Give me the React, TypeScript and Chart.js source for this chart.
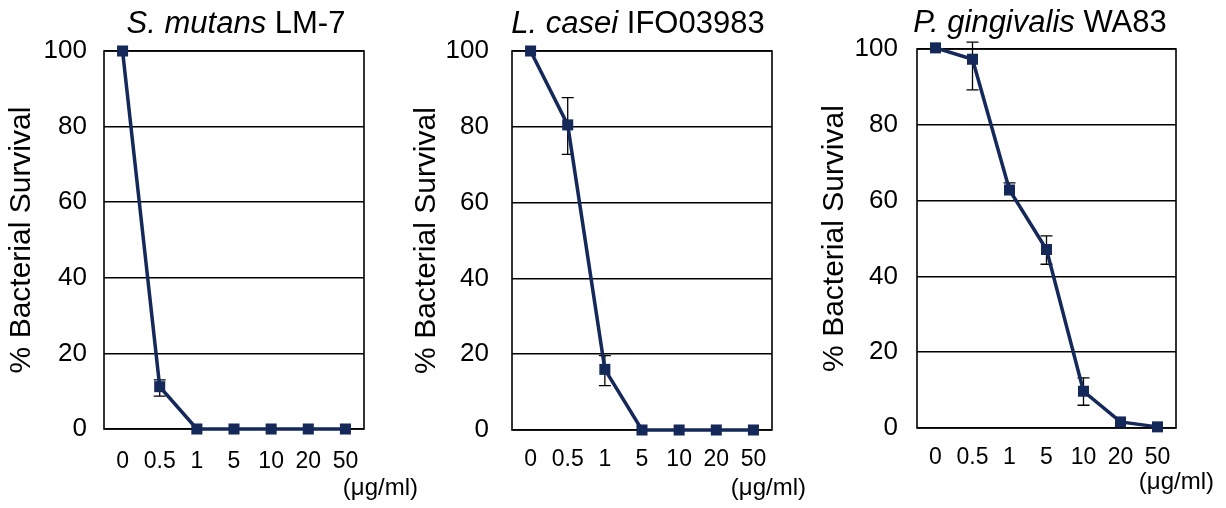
import React, { useEffect, useRef } from 'react';
import { Chart, registerables } from 'chart.js';

Chart.register(...registerables);

// ---------- data ----------
const doses = ['0', '0.5', '1', '5', '10', '20', '50'];
const yTickMin = 0;
const yTickMax = 100;
const yTickStep = 20;

const mutansSurvival = [100, 11.2, 0, 0, 0, 0, 0];
const mutansErrUp = [0, 1.8, 0, 0, 0, 0, 0];
const mutansErrDown = [0, 2.5, 0, 0, 0, 0, 0];

const caseiSurvival = [100, 80.5, 16, 0, 0, 0, 0];
const caseiErrUp = [0, 7.2, 3.6, 0, 0, 0, 0];
const caseiErrDown = [0, 7.8, 4.3, 0, 0, 0, 0];

const gingivalisSurvival = [100.3, 97.3, 62.8, 47.1, 9.7, 1.6, 0.3];
const gingivalisErrUp = [0, 4.5, 1.9, 3.6, 3.5, 0, 0];
const gingivalisErrDown = [0, 8.1, 0, 3.9, 3.7, 0, 0];

const titleItalic = ['S. mutans', 'L. casei', 'P. gingivalis'];
const titlePlain = ['LM-7', 'IFO03983', 'WA83'];
const yAxisTitle = '% Bacterial Survival';
const unitLabel = '(\u03bcg/ml)';

const survival = [mutansSurvival, caseiSurvival, gingivalisSurvival];
const errUp = [mutansErrUp, caseiErrUp, gingivalisErrUp];
const errDown = [mutansErrDown, caseiErrDown, gingivalisErrDown];

// ---------- layout (page pixel coordinates) ----------
const PAGE_H = 508;
const layouts = [
  { canvasLeft: 0, width: 420, areaLeft: 104, areaRight: 364, areaTop: 51, areaBottom: 429, tickPad: 17, xTickCenter: 462, yTitleX: 22, unitRight: 418, unitY: 488, titleCenter: 236, titleBaseline: 33 },
  { canvasLeft: 410, width: 410, areaLeft: 512, areaRight: 772, areaTop: 51, areaBottom: 430, tickPad: 23, xTickCenter: 460, yTitleX: 427, unitRight: 806, unitY: 488, titleCenter: 638, titleBaseline: 33 },
  { canvasLeft: 816, width: 410, areaLeft: 917, areaRight: 1176, areaTop: 49, areaBottom: 428, tickPad: 19, xTickCenter: 458, yTitleX: 835, unitRight: 1214, unitY: 482, titleCenter: 1040, titleBaseline: 32 },
];

const FONT = "'Liberation Sans', Arial, Helvetica, sans-serif";
const LINE_COLOR = '#15285a';
const X_TICK_SIZE = 23;
const Y_TICK_SIZE = 26;
const Y_TITLE_SIZE = 30;
const TITLE_SIZE = 31;
const UNIT_SIZE = 24;

function Panel({ idx }: { idx: number }) {
  const ref = useRef<HTMLCanvasElement>(null);
  const L = layouts[idx];

  useEffect(() => {
    const canvas = ref.current;
    if (!canvas) return;
    const off = L.canvasLeft;
    const areaLeftC = L.areaLeft - off;
    const areaRightC = L.areaRight - off;
    const up = errUp[idx];
    const down = errDown[idx];
    const values = survival[idx];

    const frameAndErrors = {
      id: 'frameAndErrors' + idx,
      beforeDatasetsDraw(chart: any) {
        const { ctx, chartArea } = chart;
        ctx.save();
        ctx.strokeStyle = '#000';
        ctx.lineWidth = 1.6;
        ctx.strokeRect(chartArea.left, chartArea.top, chartArea.right - chartArea.left, chartArea.bottom - chartArea.top);
        const xs = chart.scales.x;
        const ys = chart.scales.y;
        ctx.lineWidth = 1.3;
        values.forEach((v: number, i: number) => {
          if (!up[i] && !down[i]) return;
          const x = xs.getPixelForValue(i);
          const yTop = ys.getPixelForValue(v + up[i]);
          const yBot = ys.getPixelForValue(v - down[i]);
          ctx.beginPath();
          ctx.moveTo(x, yTop);
          ctx.lineTo(x, yBot);
          if (up[i]) {
            ctx.moveTo(x - 6, yTop);
            ctx.lineTo(x + 6, yTop);
          }
          if (down[i]) {
            ctx.moveTo(x - 6, yBot);
            ctx.lineTo(x + 6, yBot);
          }
          ctx.stroke();
        });
        ctx.restore();
      },
      afterDraw(chart: any) {
        const { ctx } = chart;
        ctx.save();
        ctx.fillStyle = '#000';
        // title with italic species name
        const italicFont = `italic ${TITLE_SIZE}px ${FONT}`;
        const plainFont = `${TITLE_SIZE}px ${FONT}`;
        ctx.font = italicFont;
        const w1 = ctx.measureText(titleItalic[idx] + ' ').width;
        ctx.font = plainFont;
        const w2 = ctx.measureText(titlePlain[idx]).width;
        const startX = L.titleCenter - off - (w1 + w2) / 2;
        ctx.textBaseline = 'alphabetic';
        ctx.textAlign = 'left';
        ctx.font = italicFont;
        ctx.fillText(titleItalic[idx] + ' ', startX, L.titleBaseline);
        ctx.font = plainFont;
        ctx.fillText(titlePlain[idx], startX + w1, L.titleBaseline);
        // unit label
        ctx.font = `${UNIT_SIZE}px ${FONT}`;
        ctx.textAlign = 'right';
        ctx.textBaseline = 'middle';
        ctx.fillText(unitLabel, L.unitRight - off, L.unitY);
        ctx.restore();
      },
    };

    const xTickLine = X_TICK_SIZE * 1.2;
    const yTitleLine = Y_TITLE_SIZE * 1.2;

    const chart = new Chart(canvas, {
      type: 'line',
      data: {
        labels: doses,
        datasets: [
          {
            data: values,
            borderColor: LINE_COLOR,
            backgroundColor: LINE_COLOR,
            borderWidth: 3.5,
            pointStyle: 'rect',
            pointRadius: 7.8,
            pointBorderWidth: 0,
            pointBackgroundColor: LINE_COLOR,
            tension: 0,
            clip: false as any,
          },
        ],
      },
      options: {
        animation: false,
        responsive: false,
        devicePixelRatio: 1,
        events: [],
        layout: {
          padding: { left: 0, top: L.areaTop, right: L.width - areaRightC, bottom: 0 },
        },
        plugins: {
          legend: { display: false },
          tooltip: { enabled: false },
          title: { display: false },
        },
        scales: {
          x: {
            type: 'category',
            offset: true,
            grid: { display: false, drawTicks: false },
            border: { display: false },
            ticks: {
              color: '#000',
              font: { family: FONT, size: X_TICK_SIZE },
              padding: L.xTickCenter - L.areaBottom - xTickLine / 2,
              maxRotation: 0,
              autoSkip: false,
            },
            afterFit: (s: any) => {
              s.height = PAGE_H - L.areaBottom;
            },
          },
          y: {
            min: yTickMin,
            max: yTickMax,
            grid: { color: '#000', lineWidth: 1.6, drawTicks: false },
            border: { display: false },
            ticks: {
              stepSize: yTickStep,
              color: '#000',
              font: { family: FONT, size: Y_TICK_SIZE },
              padding: L.tickPad,
            },
            title: {
              display: true,
              text: yAxisTitle,
              color: '#000',
              font: { family: FONT, size: Y_TITLE_SIZE },
              padding: { top: L.yTitleX - off - yTitleLine / 2, bottom: 0 },
            },
            afterFit: (s: any) => {
              s.width = areaLeftC;
            },
          },
        },
      },
      plugins: [frameAndErrors],
    } as any);
    return () => chart.destroy();
  }, [idx]);

  return (
    <canvas
      ref={ref}
      width={L.width}
      height={PAGE_H}
      style={{ position: 'absolute', left: L.canvasLeft, top: 0, width: L.width, height: PAGE_H }}
    />
  );
}

export default function App() {
  return (
    <div style={{ position: 'absolute', left: 0, top: 0, width: 1226, height: PAGE_H, overflow: 'hidden', background: '#fff' }}>
      <Panel idx={0} />
      <Panel idx={1} />
      <Panel idx={2} />
    </div>
  );
}
